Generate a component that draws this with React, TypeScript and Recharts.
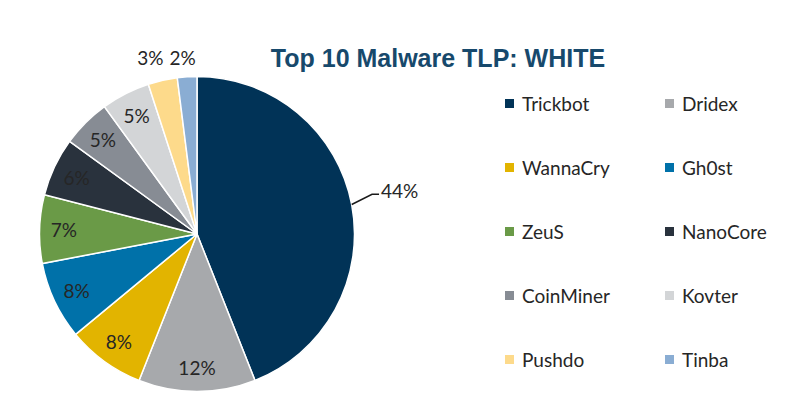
import React from "react";
import { PieChart, Pie, Cell, Legend } from "recharts";

const names = [
  "Trickbot",
  "Dridex",
  "WannaCry",
  "Gh0st",
  "ZeuS",
  "NanoCore",
  "CoinMiner",
  "Kovter",
  "Pushdo",
  "Tinba",
];
const shares = [44, 12, 8, 8, 7, 6, 5, 5, 3, 2];
const COLORS = [
  "#013357",
  "#A7A9AC",
  "#E2B400",
  "#0071A9",
  "#6A9A47",
  "#29323D",
  "#878C94",
  "#D3D5D7",
  "#FDDA8B",
  "#8AADD3",
];

const data = names.map((name, i) => ({ name, value: shares[i] }));

const RADIAN = Math.PI / 180;
const FONT = "Lato, 'Noto Sans', sans-serif";

const renderLabel = (props: any) => {
  const { cx, cy, midAngle, outerRadius, index, value } = props;
  const cos = Math.cos(-midAngle * RADIAN);
  const sin = Math.sin(-midAngle * RADIAN);

  if (index === 0) {
    // leader line for the big slice
    const sx = cx + outerRadius * cos;
    const sy = cy + outerRadius * sin;
    const mx = cx + (outerRadius + 22) * Math.cos(-(midAngle + 2) * RADIAN);
    const my = cy + (outerRadius + 22) * Math.sin(-(midAngle + 2) * RADIAN);
    const ex = mx + 7;
    return (
      <g>
        <polyline
          points={`${sx},${sy} ${mx},${my} ${ex},${my}`}
          fill="none"
          stroke="#1a1a1a"
          strokeWidth={1.5}
        />
        <text
          x={ex + 2}
          y={my - 4}
          fill="#262626"
          fontSize={19}
          fontFamily={FONT}
          textAnchor="start"
          dominantBaseline="central"
        >
          {`${value}%`}
        </text>
      </g>
    );
  }

  if (index >= 8) {
    // tiny slices: labels above the pie
    const nudge = index === 8 ? -7 : -3;
    const x = cx + (outerRadius + 24) * cos + nudge;
    const y = cy - outerRadius - 19;
    return (
      <text
        x={x}
        y={y}
        fill="#262626"
        fontSize={19}
        fontFamily={FONT}
        textAnchor="middle"
        dominantBaseline="central"
      >
        {`${value}%`}
      </text>
    );
  }

  const r = outerRadius * 0.845;
  return (
    <text
      x={cx + r * cos}
      y={cy + r * sin}
      fill="#262626"
      fontSize={19}
      fontFamily={FONT}
      textAnchor="middle"
      dominantBaseline="central"
    >
      {`${value}%`}
    </text>
  );
};

// legend keeps the data order (two columns, five rows)
const renderLegend = () => {
  return (
    <div
      style={{
        display: "grid",
        gridTemplateColumns: "160px 130px",
        rowGap: 40,
        fontFamily: FONT,
        fontSize: 19,
        color: "#262626",
      }}
    >
      {names.map((name, i) => (
        <div
          key={`leg-${i}`}
          style={{ display: "flex", alignItems: "center", height: 24 }}
        >
          <span
            style={{
              width: 9,
              height: 9,
              background: COLORS[i],
              marginRight: 8,
              display: "inline-block",
            }}
          />
          <span>{name}</span>
        </div>
      ))}
    </div>
  );
};

const App = () => {
  return (
    <div
      style={{
        position: "absolute",
        left: 0,
        top: 0,
        width: 799,
        height: 404,
        background: "#fff",
      }}
    >
      <div
        style={{
          position: "absolute",
          left: 238,
          width: 400,
          top: 44,
          textAlign: "center",
          fontFamily: "'Liberation Sans', Arial, sans-serif",
          fontWeight: 700,
          fontSize: 25,
          lineHeight: "28px",
          color: "#17496C",
        }}
      >
        Top 10 Malware TLP: WHITE
      </div>
      <PieChart
        width={799}
        height={404}
        margin={{ top: 0, right: 0, bottom: 0, left: 0 }}
      >
        <Pie
          data={data}
          dataKey="value"
          nameKey="name"
          cx={197}
          cy={234}
          outerRadius={157.5}
          startAngle={90}
          endAngle={-270}
          stroke="#ffffff"
          strokeWidth={1.5}
          label={renderLabel}
          labelLine={false}
          isAnimationActive={false}
        >
          {data.map((entry, index) => (
            <Cell key={`cell-${index}`} fill={COLORS[index % COLORS.length]} />
          ))}
        </Pie>
        <Legend
          content={renderLegend}
          wrapperStyle={{ left: 505, top: 91, width: 290 }}
        />
      </PieChart>
    </div>
  );
};

export default App;
